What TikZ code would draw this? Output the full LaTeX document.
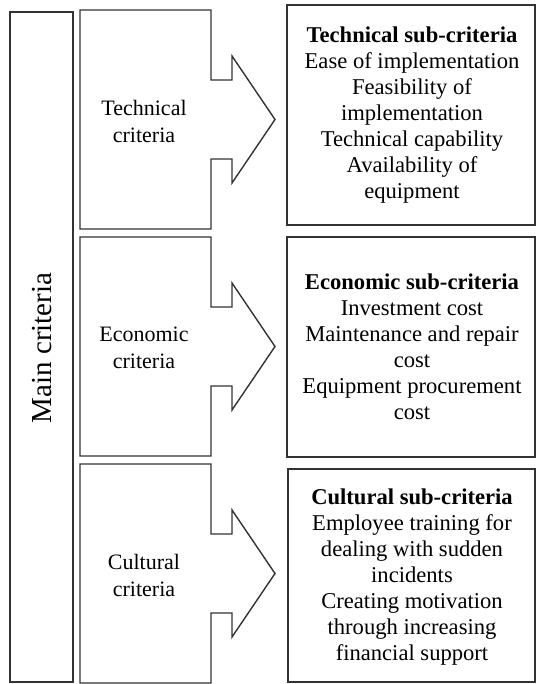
\documentclass[tikz,border=0pt]{standalone}
\usepackage{fontspec}
\setmainfont{Liberation Serif}
\begin{document}
\begin{tikzpicture}[x=1pt,y=-1pt,
  box/.style={draw=black!80, line width=1.4pt, line join=miter},
  lbl/.style={align=center, font=\fontsize{22}{27}\selectfont, inner sep=0pt},
  sublbl/.style={align=center, font=\fontsize{22.6}{26}\selectfont, inner sep=0pt},
  critarrow/.pic={
    \draw[box] (0,0) -- (131,0) -- (131,70) -- (152,70) -- (152,46)
      -- (195,109.5) -- (152,173) -- (152,149) -- (131,149) -- (131,219)
      -- (0,219) -- cycle;
  }]
\useasboundingbox (0,0) rectangle (537,684);

% vertical main-criteria bar
\draw[box] (10,12) rectangle (73,682);
\node[rotate=90, inner sep=0pt, font=\fontsize{29}{32}\selectfont] (main) at (42,348) {Main criteria};

% criteria blocks with arrow heads
\pic at (80,10) {critarrow};
\pic at (80,237) {critarrow};
\pic at (80,464) {critarrow};

\node[lbl] (tech) at (144,121) {Technical\\criteria};
\node[lbl] (econ) at (144,348) {Economic\\criteria};
\node[lbl] (cult) at (144,575) {Cultural\\criteria};

% sub-criteria boxes
\draw[box] (287,5) rectangle (535,225);
\draw[box] (287,237) rectangle (535,457);
\draw[box] (288,469) rectangle (535,682);

\node[sublbl] (techsub) at (412,115) {\textbf{Technical sub-criteria}\\Ease of implementation\\Feasibility of\\implementation\\Technical capability\\Availability of\\equipment};
\node[sublbl] (econsub) at (412,347) {\textbf{Economic sub-criteria}\\Investment cost\\Maintenance and repair\\cost\\Equipment procurement\\cost};
\node[sublbl] (cultsub) at (412,577) {\textbf{Cultural sub-criteria}\\Employee training for\\dealing with sudden\\incidents\\Creating motivation\\through increasing\\financial support};
\end{tikzpicture}
\end{document}
